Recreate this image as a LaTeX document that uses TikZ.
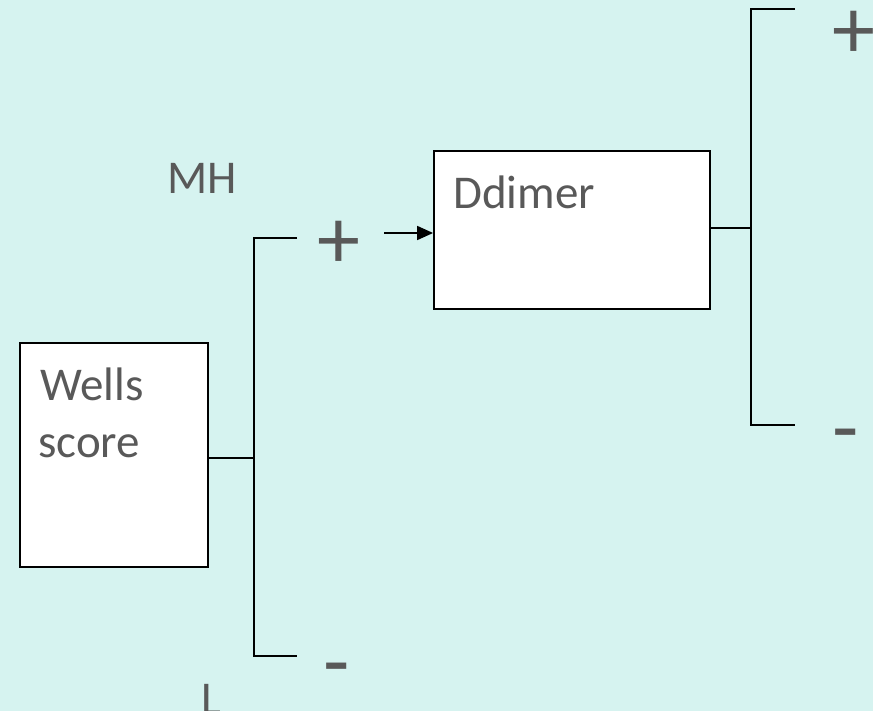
\documentclass[tikz,border=0pt]{standalone}
\usepackage{fontspec}
\setmainfont{Carlito}
\usetikzlibrary{arrows.meta}
\definecolor{bgcol}{RGB}{214,243,240}
\definecolor{txtgray}{RGB}{89,89,89}
\begin{document}
\begin{tikzpicture}[x=1pt,y=-1pt,
  box/.style={draw=black,line width=1.8pt,fill=white,inner sep=0pt},
  conn/.style={draw=black,line width=1.8pt},
  lbl/.style={text=txtgray,inner sep=0pt,anchor=base west,font=\fontsize{47}{56}\selectfont},
  sign/.style={text=txtgray,inner sep=0pt,anchor=center,font=\fontsize{86}{90}\selectfont}]
\clip (0,0) rectangle (873,711);
\fill[bgcol] (0,0) rectangle (873,711);
\useasboundingbox (0,0) rectangle (873,711);
% boxes
\node[box,minimum width=188pt,minimum height=224pt] (wells) at (114,455) {};
\node[box,minimum width=276pt,minimum height=158pt] (ddimer) at (572,230) {};
% texts
\node[lbl] (wellsA) at (40,400) {Wells};
\node[lbl] (wellsB) at (38,457) {score};
\node[lbl] (dtext) at (453,209) {Ddimer};
\node[lbl] (mh) at (167,194) {MH};
\node[lbl] (ll) at (201,714) {L};
% signs
\node[sign] (p1) at (339,245) {+};
\node[sign] (m1) at (337,677) {-};
\node[sign] (p2) at (854,35) {+};
\node[sign] (m2) at (846,443) {-};
% junctions
\coordinate (wj) at (254,458);
\coordinate (wt) at (254,238);
\coordinate (wte) at (297,238);
\coordinate (wb) at (254,656);
\coordinate (wbe) at (297,656);
\coordinate (dj) at (751,228);
\coordinate (dt) at (751,9);
\coordinate (dte) at (795,9);
\coordinate (db) at (751,425);
\coordinate (dbe) at (795,425);
\coordinate (as) at (384,233);
\draw[conn] (wells.east |- wj) -- (wj);
\draw[conn] (wte) -- (wt) -- (wb) -- (wbe);
\draw[conn] (ddimer.east |- dj) -- (dj);
\draw[conn] (dte) -- (dt) -- (db) -- (dbe);
\draw[conn,-{Triangle[length=16pt,width=14pt]}] (as) -- (ddimer.west |- as);
\end{tikzpicture}
\end{document}
